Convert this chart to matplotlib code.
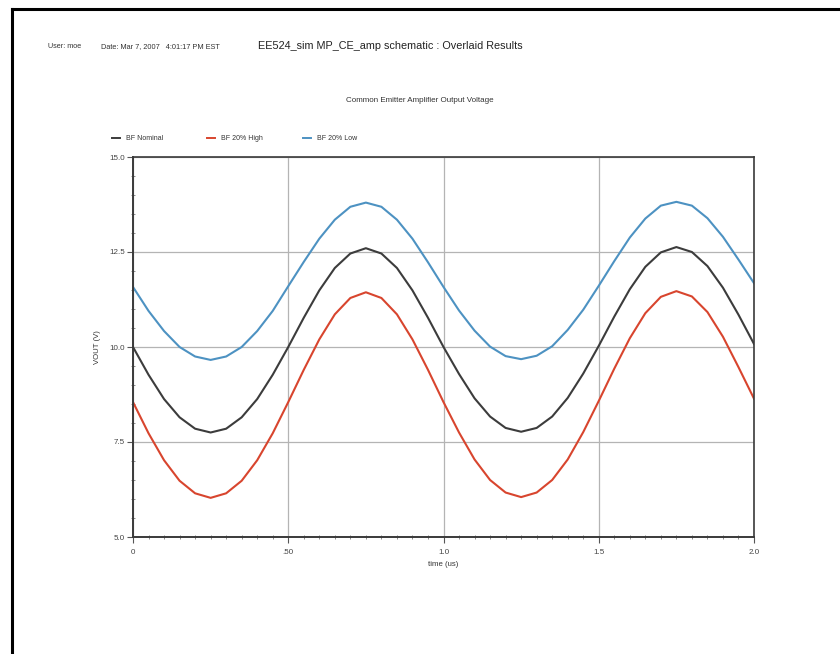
import matplotlib
matplotlib.use("Agg")
import matplotlib.pyplot as plt
from matplotlib.lines import Line2D
from matplotlib.ticker import MultipleLocator, FixedLocator

plt.rcParams['font.family'] = ['Liberation Sans', 'DejaVu Sans']

# time axis (us)
time_us = [0.00, 0.05, 0.10, 0.15, 0.20, 0.25, 0.30, 0.35, 0.40, 0.45,
           0.50, 0.55, 0.60, 0.65, 0.70, 0.75, 0.80, 0.85, 0.90, 0.95,
           1.00, 1.05, 1.10, 1.15, 1.20, 1.25, 1.30, 1.35, 1.40, 1.45,
           1.50, 1.55, 1.60, 1.65, 1.70, 1.75, 1.80, 1.85, 1.90, 1.95, 2.00]

bf_nominal = [10.00, 9.27, 8.63, 8.15, 7.85, 7.75, 7.85, 8.15, 8.63, 9.27,
              10.00, 10.77, 11.49, 12.08, 12.46, 12.60, 12.46, 12.08, 11.49, 10.77,
              10.00, 9.29, 8.65, 8.17, 7.87, 7.77, 7.87, 8.17, 8.66, 9.30,
              10.03, 10.80, 11.52, 12.11, 12.49, 12.63, 12.50, 12.13, 11.56, 10.85, 10.08]

bf_high = [8.55, 7.73, 7.02, 6.48, 6.15, 6.03, 6.15, 6.48, 7.02, 7.73,
           8.55, 9.40, 10.20, 10.86, 11.29, 11.44, 11.29, 10.86, 10.20, 9.40,
           8.55, 7.75, 7.04, 6.50, 6.17, 6.05, 6.17, 6.50, 7.04, 7.76,
           8.58, 9.43, 10.23, 10.89, 11.32, 11.47, 11.33, 10.92, 10.27, 9.47, 8.64]

bf_low = [11.58, 10.95, 10.42, 10.00, 9.75, 9.66, 9.75, 10.00, 10.42, 10.95,
          11.60, 12.24, 12.85, 13.35, 13.69, 13.80, 13.69, 13.35, 12.85, 12.23,
          11.58, 10.96, 10.43, 10.01, 9.76, 9.68, 9.77, 10.02, 10.45, 10.98,
          11.61, 12.26, 12.88, 13.38, 13.72, 13.82, 13.72, 13.39, 12.90, 12.30, 11.68]

series_names = ["BF Nominal", "BF 20% High", "BF 20% Low"]
series_colors = ["#3c3c3c", "#d8452e", "#4d92c2"]

x_ticks = [0.0, 0.5, 1.0, 1.5, 2.0]
x_tick_labels = ["0", ".50", "1.0", "1.5", "2.0"]
y_ticks = [5.0, 7.5, 10.0, 12.5, 15.0]
y_tick_labels = ["5.0", "7.5", "10.0", "12.5", "15.0"]

W, H = 840, 654
fig = plt.figure(figsize=(W / 100, H / 100), dpi=100)
fig.patch.set_facecolor("white")


def px(x, y):
    return x / W, 1 - y / H


# page border (scan edge)
fig.add_artist(Line2D([11.5 / W, 11.5 / W], [0, 1 - 8.5 / H], transform=fig.transFigure,
                      color="black", lw=2.2))
fig.add_artist(Line2D([11.5 / W, 1], [1 - 8.5 / H, 1 - 8.5 / H], transform=fig.transFigure,
                      color="black", lw=2.2))

# header texts
fig.text(*px(48, 47), "User: moe", fontsize=5.2, color="#333333", va="center", ha="left")
fig.text(*px(101, 47), "Date: Mar 7, 2007   4:01:17 PM EST", fontsize=5.3, color="#333333",
         va="center", ha="left")
fig.text(*px(258, 46), "EE524_sim MP_CE_amp schematic : Overlaid Results", fontsize=7.8,
         color="#222222", va="center", ha="left")
fig.text(*px(420, 101), "Common Emitter Amplifier Output Voltage", fontsize=5.8,
         color="#333333", va="center", ha="center")

# legend (manual)
legend_x = [112, 207, 303]
for lx, name, col in zip(legend_x, series_names, series_colors):
    fig.add_artist(Line2D([lx / W, (lx + 8) / W], [1 - 138 / H, 1 - 138 / H],
                          transform=fig.transFigure, color=col, lw=1.4))
    fig.text(*px(lx + 14, 138), name, fontsize=5.0, color="#333333", va="center", ha="left")

# axes
x0, x1, y0, y1 = 133, 754, 537, 157
ax = fig.add_axes([x0 / W, 1 - y0 / H, (x1 - x0) / W, (y0 - y1) / H])
ax.set_xlim(0, 2.0)
ax.set_ylim(5.0, 15.0)

for vals, col in zip([bf_nominal, bf_high, bf_low], series_colors):
    ax.plot(time_us, vals, color=col, lw=1.5, solid_joinstyle="round")

ax.xaxis.set_major_locator(FixedLocator(x_ticks))
ax.set_xticklabels(x_tick_labels)
ax.yaxis.set_major_locator(FixedLocator(y_ticks))
ax.set_yticklabels(y_tick_labels)
ax.xaxis.set_minor_locator(MultipleLocator(0.05))
ax.yaxis.set_minor_locator(MultipleLocator(0.5))

ax.grid(True, which="major", color="#b4b4b4", lw=0.9)
ax.set_axisbelow(True)

ax.tick_params(which="major", direction="out", length=4, width=0.8, colors="#555555",
               labelsize=5.8, labelcolor="#444444", pad=2)
ax.tick_params(which="minor", direction="inout", length=3, width=0.6, colors="#777777")
ax.tick_params(axis="x", which="major", pad=5)

for side, sp in ax.spines.items():
    sp.set_color("#3a3a3a")
    sp.set_linewidth(1.4 if side in ("left", "bottom") else 1.2)

ax.set_xlabel("time (us)", fontsize=5.6, color="#333333", labelpad=3)
ax.set_ylabel("VOUT (V)", fontsize=5.6, color="#333333", labelpad=6)

fig.savefig("out.png", dpi=100, facecolor="white")
